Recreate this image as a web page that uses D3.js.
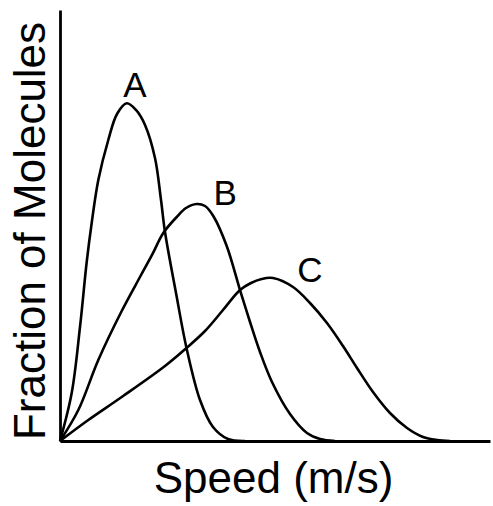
<!DOCTYPE html>
<html>
<head>
<meta charset="utf-8">
<script src="https://cdn.jsdelivr.net/npm/d3@7"></script>
<style>
body { margin: 0; background: #fff; }
text { font-family: "Liberation Sans", Arial, sans-serif; fill: #000; }
</style>
</head>
<body>
<div id="chart"></div>
<script>
// speed and fraction in arbitrary units (0-100)
var speedA = [0, 2.72, 4.65, 6.21, 7.37, 8.91, 11.23, 13.26, 15.51, 17.67, 19.77, 22.09, 23.49, 24.42, 26.98, 29.42, 32.56, 35.58, 39.07, 43.02];
var fracA  = [0, 11.14, 26.45, 41.53, 50.58, 60.56, 69.84, 75.87, 78.35, 76.8, 73.32, 65.66, 55.92, 48.49, 34.34, 21.58, 9.51, 3.25, 0.46, 0];

var speedB = [0, 4.26, 8.91, 14.35, 18.6, 21.4, 24.02, 27.14, 29.3, 31.79, 33.72, 35.65, 38.77, 41.86, 44.19, 46.51, 49.3, 53.49, 57.44, 60.47, 63.95];
var fracB  = [0, 7.19, 18.79, 30.16, 38.05, 43.16, 48.26, 51.97, 54.06, 54.99, 54.52, 52.2, 45.24, 35.03, 27.61, 20.65, 13.69, 6.26, 1.86, 0.46, 0];

var speedC = [0, 6.58, 14.35, 24.42, 29.42, 33.72, 37.91, 41.86, 44.3, 46.9, 49.53, 54.19, 58.14, 62.09, 65.81, 69.07, 72.79, 76.74, 80.7, 84.42, 87.67, 90.7];
var fracC  = [0, 4.87, 10.21, 17.4, 21.58, 25.52, 30.39, 35.03, 36.6, 37.6, 37.82, 35.73, 32.02, 27.38, 22.04, 16.94, 11.37, 6.5, 3.02, 0.93, 0.23, 0];

var curveNames = ["A", "B", "C"];
var labelSpeed = [17.4, 38.4, 58.1];
var labelFrac  = [79.8, 54.8, 36.9];

var width = 493, height = 506;
var margin = {top: 10, right: 3, bottom: 65, left: 60};

var svg = d3.select("#chart").append("svg")
	.attr("width", width)
	.attr("height", height);

var x = d3.scaleLinear().domain([0, 100]).range([margin.left, width - margin.right]);
var y = d3.scaleLinear().domain([0, 100]).range([height - margin.bottom, margin.top]);

var series = [
	{name: curveNames[0], xs: speedA, ys: fracA},
	{name: curveNames[1], xs: speedB, ys: fracB},
	{name: curveNames[2], xs: speedC, ys: fracC}
];

var line = d3.line()
	.x(d => x(d[0]))
	.y(d => y(d[1]))
	.curve(d3.curveCatmullRom.alpha(0.5));

svg.selectAll("path.curve")
	.data(series)
	.join("path")
	.attr("class", "curve")
	.attr("fill", "none")
	.attr("stroke", "#000")
	.attr("stroke-width", 2.6)
	.attr("stroke-linejoin", "round")
	.attr("d", s => line(d3.zip(s.xs, s.ys)));

// axes: plain lines, no ticks
var xAxis = d3.axisBottom(x).tickValues([]).tickSizeOuter(0);
var yAxis = d3.axisLeft(y).tickValues([]).tickSizeOuter(0);

svg.append("g")
	.attr("transform", `translate(0,${y(0)})`)
	.call(xAxis)
	.select(".domain").attr("stroke-width", 2.8);

svg.append("g")
	.attr("transform", `translate(${x(0)},0)`)
	.call(yAxis)
	.select(".domain").attr("stroke-width", 2.8);

svg.selectAll("text.lbl")
	.data(curveNames)
	.join("text")
	.attr("class", "lbl")
	.attr("x", (d, i) => x(labelSpeed[i]))
	.attr("y", (d, i) => y(labelFrac[i]))
	.attr("text-anchor", "middle")
	.style("font-size", "35px")
	.text(d => d);

svg.append("text")
	.attr("x", 273.5)
	.attr("y", 493)
	.attr("text-anchor", "middle")
	.style("font-size", "44px")
	.text("Speed (m/s)");

svg.append("text")
	.attr("transform", `translate(45,231) rotate(-90)`)
	.attr("text-anchor", "middle")
	.style("font-size", "44px")
	.text("Fraction of Molecules");
</script>
</body>
</html>
